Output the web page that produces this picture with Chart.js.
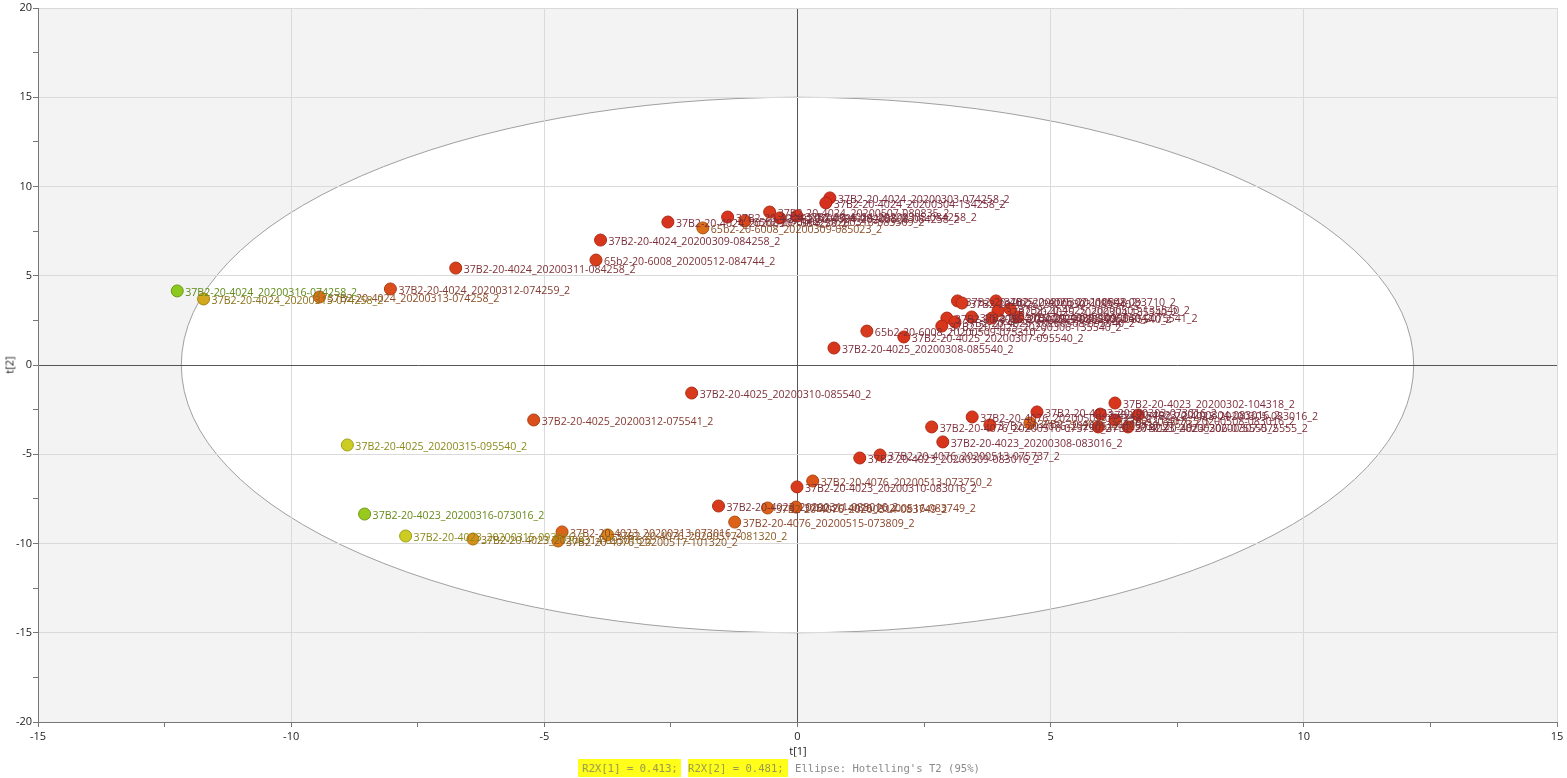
<!DOCTYPE html>
<html>
<head>
<meta charset="utf-8">
<script src="https://cdn.jsdelivr.net/npm/chart.js@4/dist/chart.umd.min.js"></script>
<style>
  html, body { margin: 0; padding: 0; background: #ffffff; }
  #wrap { position: relative; width: 1567px; height: 778px; overflow: hidden; }
  #c { position: absolute; left: 0; top: 0; }
  .axt { position: absolute; font-family: "Open Sans", sans-serif; font-size: 11px; color: #222; white-space: nowrap; }
  #xt { left: 798px; top: 743px; transform: translateX(-50%); }
  #yt { left: 9px; top: 365px; transform: translate(-50%, -50%) rotate(-90deg); }
  .ft { position: absolute; top: 759px; height: 18px; line-height: 18px; font-family: "DejaVu Sans Mono", "Liberation Mono", monospace; font-size: 10.6px; color: #8a8a8a; white-space: pre; }
  .hl { background: #ffff1a; color: #9a9a50; }
  #f1 { left: 578px; padding: 0 3px 0 4px; }
  #f2 { left: 688px; padding: 0 4px 0 0; }
  #f3 { left: 795px; }
</style>
</head>
<body>
<div id="wrap">
  <canvas id="c" width="1567" height="778"></canvas>
  <div class="axt" id="xt">t[1]</div>
  <div class="axt" id="yt">t[2]</div>
  <span class="ft hl" id="f1">R2X[1] = 0.413;</span>
  <span class="ft hl" id="f2">R2X[2] = 0.481;</span>
  <span class="ft" id="f3">Ellipse: Hotelling's T2 (95%)</span>
</div>
<script>
// ---- data ----
const sampleNames = [
  "37B2-20-4024_20200303-074258_2",
  "37B2-20-4024_20200304-134258_2",
  "37B2-20-4024_20200507-080835_2",
  "37B2-20-4024_20200305-084258_2",
  "37B2-20-4024_20200508-084258_2",
  "65b2-20-6008_20200310-083509_2",
  "37B2-20-4024_20200306-084258_2",
  "37B2-20-4024_20200307-084258_2",
  "65b2-20-6008_20200309-085023_2",
  "37B2-20-4024_20200309-084258_2",
  "65b2-20-6008_20200512-084744_2",
  "37B2-20-4024_20200311-084258_2",
  "37B2-20-4024_20200312-074259_2",
  "37B2-20-4024_20200313-074258_2",
  "37B2-20-4024_20200315-074258_2",
  "37B2-20-4024_20200316-074258_2",
  "37B2-20-4025_20200302-110848_2",
  "37B2-20-4025_20200303-085540_2",
  "37B2-20-4025_20200502-083710_2",
  "37B2-20-4025_20200503-135540_2",
  "37B2-20-4025_20200304-135540_2",
  "37B2-20-4025_20200305-095540_2",
  "37B2-20-4025_20200505-085540_2",
  "37B2-20-4025_20200506-085540_2",
  "37B2-20-4025_20200504-075541_2",
  "37B2-20-4025_20200508-095540_2",
  "37B2-20-4025_20200306-135540_2",
  "65b2-20-6008_20200509-075310_2",
  "37B2-20-4025_20200307-095540_2",
  "37B2-20-4025_20200308-085540_2",
  "37B2-20-4025_20200310-085540_2",
  "37B2-20-4025_20200312-075541_2",
  "37B2-20-4025_20200315-095540_2",
  "37B2-20-4023_20200302-104318_2",
  "37B2-20-4076_20200509-075737_2",
  "37B2-20-4023_20200303-073016_2",
  "37B2-20-4023_20200304-083016_2",
  "37B2-20-4023_20200305-083016_2",
  "37B2-20-4076_20200511-075737_2",
  "37B2-20-4076_20200512-075737_2",
  "37B2-20-4076_20200510-073750_2",
  "37B2-20-4023_20200306-075555_2",
  "37B2-20-4023_20200307-075555_2",
  "37B2-20-4076_20200508-083016_2",
  "37B2-20-4023_20200308-083016_2",
  "37B2-20-4076_20200513-075737_2",
  "37B2-20-4023_20200309-083016_2",
  "37B2-20-4076_20200513-073750_2",
  "37B2-20-4023_20200310-083016_2",
  "37B2-20-4023_20200311-083016_2",
  "37B2-20-4076_20200514-083749_2",
  "37B2-20-4076_20200516-083749_2",
  "37B2-20-4076_20200515-073809_2",
  "37B2-20-4076_20200517-081320_2",
  "37B2-20-4023_20200313-073016_2",
  "37B2-20-4076_20200517-101320_2",
  "37B2-20-4023_20200314-093016_2",
  "37B2-20-4023_20200315-093016_2",
  "37B2-20-4023_20200316-073016_2"
];
const t1 = [
  0.64, 0.56, -0.55, -0.01, -0.35, -1.04, -1.38, -2.56, -1.87, -3.89,
  -3.98, -6.75, -8.04, -9.44, -11.73, -12.25,
  3.16, 3.25, 3.92, 4.20, 3.96, 3.44, 2.95, 3.84, 4.35, 3.11,
  2.85, 1.37, 2.10, 0.72, -2.09, -5.21, -8.89,
  6.27, 3.45, 4.73, 5.98, 6.73, 4.59, 3.80, 2.65, 5.94, 6.53,
  6.27, 2.87, 1.63, 1.23,
  0.30, -0.01, -1.56, -0.59, -0.03, -1.24,
  -3.75, -4.65, -4.73, -6.41, -7.74, -8.55
];
const t2 = [
  9.36, 9.08, 8.57, 8.35, 8.24, 8.07, 8.29, 8.01, 7.68, 7.00,
  5.88, 5.43, 4.26, 3.81, 3.70, 4.15,
  3.59, 3.47, 3.59, 3.14, 3.03, 2.69, 2.63, 2.63, 2.69, 2.41,
  2.18, 1.90, 1.57, 0.95, -1.57, -3.08, -4.48,
  -2.13, -2.91, -2.63, -2.75, -2.80, -3.25, -3.36, -3.47, -3.47, -3.47,
  -3.08, -4.31, -5.04, -5.21,
  -6.50, -6.83, -7.90, -8.01, -7.96, -8.80,
  -9.52, -9.35, -9.86, -9.75, -9.58, -8.35
];
// colour variable (0 = red end, 1 = green end)
const colourScore = [
  0.00, 0.00, 0.05, 0.03, 0.03, 0.12, 0.02, 0.02, 0.30, 0.03,
  0.08, 0.08, 0.15, 0.30, 0.55, 1.00,
  0.03, 0.05, 0.03, 0.05, 0.03, 0.05, 0.03, 0.05, 0.05, 0.03,
  0.03, 0.05, 0.03, 0.03, 0.05, 0.15, 0.70,
  0.03, 0.03, 0.02, 0.03, 0.03, 0.25, 0.05, 0.05, 0.03, 0.05,
  0.05, 0.03, 0.05, 0.03,
  0.18, 0.05, 0.05, 0.25, 0.22, 0.25,
  0.40, 0.25, 0.35, 0.45, 0.70, 0.95
];
const xTickValues = [-15, -10, -5, 0, 5, 10, 15];
const yTickValues = [-20, -15, -10, -5, 0, 5, 10, 15, 20];
const ellipseRadiusT1 = 12.17;
const ellipseRadiusT2 = 15.0;

// ---- styling helpers ----
function hex(c){ return [parseInt(c.slice(1,3),16), parseInt(c.slice(3,5),16), parseInt(c.slice(5,7),16)]; }
function ramp(stops, v){
  for (let i = 0; i < stops.length - 1; i++) {
    const [a, ca] = stops[i], [b, cb] = stops[i+1];
    if (v <= b || i === stops.length - 2) {
      const f = Math.max(0, Math.min(1, (v - a) / (b - a)));
      const A = hex(ca), B = hex(cb);
      return 'rgb(' + A.map((x, k) => Math.round(x + (B[k] - x) * f)).join(',') + ')';
    }
  }
}
const fillStops = [[0,'#d6301e'],[0.25,'#db6218'],[0.5,'#d49c1c'],[0.7,'#cccc22'],[1,'#8cc81e']];
const edgeStops = [[0,'#b02414'],[0.25,'#b04c10'],[0.5,'#a87a10'],[0.7,'#a0a018'],[1,'#6a9a14']];
const textStops = [[0,'#7a2a3c'],[0.25,'#8a4428'],[0.5,'#8a6a18'],[0.7,'#8a8a1a'],[1,'#5e8a18']];

const points = t1.map((v, i) => ({ x: v, y: t2[i] }));

const bgPlugin = {
  id: 'bgEllipse',
  beforeDraw(chart) {
    const { ctx, chartArea: a, scales: { x, y } } = chart;
    ctx.save();
    ctx.fillStyle = '#f3f3f3';
    ctx.fillRect(a.left, a.top, a.right - a.left, a.bottom - a.top);
    const cx = x.getPixelForValue(0), cy = y.getPixelForValue(0);
    const rx = x.getPixelForValue(ellipseRadiusT1) - cx;
    const ry = cy - y.getPixelForValue(ellipseRadiusT2);
    ctx.beginPath();
    ctx.ellipse(cx, cy, rx, ry, 0, 0, Math.PI * 2);
    ctx.fillStyle = '#ffffff';
    ctx.fill();
    ctx.lineWidth = 1;
    ctx.strokeStyle = '#a0a0a0';
    ctx.stroke();
    ctx.restore();
  }
};

const labelPlugin = {
  id: 'pointLabels',
  afterDatasetsDraw(chart) {
    const { ctx } = chart;
    const meta = chart.getDatasetMeta(0);
    ctx.save();
    ctx.font = '10.6px "Open Sans", sans-serif';
    ctx.textBaseline = 'middle';
    ctx.textAlign = 'left';
    meta.data.forEach((el, i) => {
      ctx.fillStyle = ramp(textStops, colourScore[i]);
      ctx.fillText(sampleNames[i], el.x + 8, el.y + 2);
    });
    ctx.restore();
  }
};

function gridColour(ctx) {
  const v = ctx.tick ? ctx.tick.value : null;
  if (v === 0) return '#555555';
  if (v !== null && Math.abs(v % 5) < 1e-9) return '#dadada';
  return 'rgba(0,0,0,0)';
}

new Chart(document.getElementById('c'), {
  type: 'scatter',
  data: {
    datasets: [{
      data: points,
      pointRadius: 6,
      pointHoverRadius: 6,
      pointBorderWidth: 1,
      backgroundColor: colourScore.map(s => ramp(fillStops, s)),
      borderColor: colourScore.map(s => ramp(edgeStops, s))
    }]
  },
  options: {
    responsive: false,
    animation: false,
    events: [],
    layout: { padding: { top: 8, right: 10, bottom: 0, left: 0 } },
    plugins: { legend: { display: false }, tooltip: { enabled: false } },
    scales: {
      x: {
        type: 'linear',
        min: xTickValues[0], max: xTickValues[xTickValues.length - 1],
        afterFit(s) { s.height = 56; },
        afterBuildTicks(s) {
          const t = [];
          for (let i = 0; i < xTickValues.length; i++) {
            t.push({ value: xTickValues[i] });
            if (i < xTickValues.length - 1) t.push({ value: (xTickValues[i] + xTickValues[i+1]) / 2 });
          }
          s.ticks = t;
        },
        ticks: {
          autoSkip: false, maxRotation: 0, padding: 3,
          color: '#222', font: { family: '"Open Sans", sans-serif', size: 11 },
          callback: v => xTickValues.includes(v) ? String(v) : ''
        },
        grid: { color: gridColour, tickColor: '#777', tickLength: 5, lineWidth: 1 },
        border: { color: '#777', width: 1 }
      },
      y: {
        type: 'linear',
        min: yTickValues[0], max: yTickValues[yTickValues.length - 1],
        afterFit(s) { s.width = 38; },
        afterBuildTicks(s) {
          const t = [];
          for (let i = 0; i < yTickValues.length; i++) {
            t.push({ value: yTickValues[i] });
            if (i < yTickValues.length - 1) t.push({ value: (yTickValues[i] + yTickValues[i+1]) / 2 });
          }
          s.ticks = t;
        },
        ticks: {
          autoSkip: false, padding: 1,
          color: '#222', font: { family: '"Open Sans", sans-serif', size: 11 },
          callback: v => yTickValues.includes(v) ? String(v) : ''
        },
        grid: { color: gridColour, tickColor: '#777', tickLength: 5, lineWidth: 1 },
        border: { color: '#777', width: 1 }
      }
    }
  },
  plugins: [bgPlugin, labelPlugin]
});
</script>
</body>
</html>
